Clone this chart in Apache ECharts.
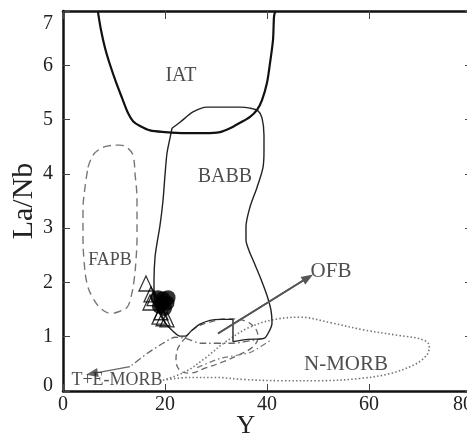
<!DOCTYPE html>
<html>
<head>
<meta charset="utf-8">
<script src="https://cdn.jsdelivr.net/npm/echarts@6/dist/echarts.min.js"></script>
<style>
  html, body { margin: 0; padding: 0; background: #fff; }
  #chart { width: 467px; height: 436px; }
</style>
</head>
<body>
<div id="chart"></div>
<script>
// Axis ticks
const xTicks = [0, 20, 40, 60, 80];
const yTicks = [0, 1, 2, 3, 4, 5, 6, 7];

// Field boundaries, [Y, La/Nb]
const iatBoundary = [
  [6.86, 6.98], [7.45, 6.65], [8.24, 6.32], [9.22, 6.01], [10.39, 5.69], [11.57, 5.40],
  [12.75, 5.12], [13.73, 4.97], [15.10, 4.88], [17.06, 4.80], [20.0, 4.77], [23.92, 4.75],
  [27.84, 4.75], [30.78, 4.77], [32.75, 4.84], [34.71, 4.94], [36.67, 5.05], [38.04, 5.18],
  [39.02, 5.36], [40.0, 5.68], [40.59, 6.04], [41.18, 6.47], [41.37, 6.89], [41.57, 6.98]
];

const babbBoundary = [
  [21.37, 4.84], [22.94, 4.95], [25.49, 5.14], [28.24, 5.23], [30.78, 5.23], [34.71, 5.23],
  [36.67, 5.21], [38.24, 5.16], [39.02, 5.03], [39.41, 4.71], [39.41, 4.44], [39.22, 4.12],
  [38.04, 3.75], [36.67, 3.39], [35.88, 3.02], [35.88, 2.78], [36.47, 2.59], [37.45, 2.37],
  [38.82, 2.06], [40.0, 1.76], [40.78, 1.49], [40.98, 1.25], [40.20, 1.06], [39.41, 0.97],
  [36.27, 0.95], [33.33, 0.91], [33.33, 1.11], [33.33, 1.32], [30.78, 1.32], [28.82, 1.30],
  [26.86, 1.23], [25.29, 1.12], [23.92, 1.01], [22.94, 1.01], [21.57, 1.10], [20.0, 1.26],
  [18.63, 1.49], [17.84, 1.76], [17.84, 2.04], [18.04, 2.46], [18.43, 2.72], [19.02, 3.05],
  [19.61, 3.51], [20.0, 3.98], [20.39, 4.38], [20.98, 4.66], [21.37, 4.84]
];

const fapbBoundary = [
  [4.90, 4.12], [5.69, 4.31], [6.67, 4.42], [8.63, 4.51], [11.18, 4.53], [12.75, 4.47],
  [13.73, 4.34], [14.12, 4.01], [14.51, 3.51], [14.51, 2.83], [14.31, 2.41], [13.92, 2.03],
  [13.33, 1.73], [12.55, 1.54], [11.18, 1.47], [9.41, 1.43], [7.65, 1.50], [5.88, 1.71],
  [4.71, 1.98], [4.12, 2.41], [3.92, 2.87], [3.92, 3.33], [4.31, 3.75], [4.90, 4.12]
];

const nMorbBoundary = [
  [19.6, 0.20], [23.9, 0.35], [27.8, 0.60], [31.8, 0.90], [36.7, 1.18], [41.6, 1.32],
  [46.5, 1.36], [52.4, 1.26], [59.2, 1.12], [66.1, 1.02], [70.4, 0.95], [71.8, 0.84],
  [71.4, 0.67], [69.0, 0.49], [64.1, 0.32], [58.2, 0.23], [50.4, 0.19], [42.6, 0.19],
  [35.7, 0.21], [29.8, 0.25], [24.9, 0.25], [19.6, 0.20]
];

const eMorbBoundary = [
  [23.92, 0.97], [25.88, 1.16], [28.82, 1.27], [32.35, 1.33], [35.69, 1.29], [37.65, 1.16],
  [38.24, 0.99], [37.06, 0.80], [34.31, 0.66], [31.18, 0.53], [27.84, 0.42], [24.90, 0.33],
  [22.94, 0.38], [22.16, 0.57], [22.55, 0.79], [23.92, 0.97]
];

// Trend arrows
const temorbTrend = [
  [39.4, 0.97], [33.3, 0.88], [27.0, 0.88], [23.92, 0.97], [21.96, 0.99], [19.61, 0.88],
  [16.47, 0.69], [13.14, 0.45]
];
const temorbTip = [5.69, 0.32];
const innerTrend = [[26.3, 0.43], [30.8, 0.60], [36.7, 0.71], [40.6, 0.93]];
const ofbArrow = [[30.39, 1.06], [48.04, 2.09]];

// Samples
const triangleSamples = [
  [16.27, 1.98], [17.25, 1.78], [17.06, 1.63], [17.84, 1.71],
  [18.82, 1.37], [19.61, 1.34], [20.39, 1.32], [19.22, 1.45]
];
const circleSamples = [
  [18.6, 1.72], [19.6, 1.70], [20.4, 1.62], [18.9, 1.56], [19.9, 1.52], [19.4, 1.62], [20.6, 1.72]
];

// Field names and where they sit
const fieldNames = ['IAT', 'BABB', 'FAPB', 'OFB', 'N-MORB', 'T+E-MORB'];
const fieldAnchors = [[23.14, 5.80], [31.76, 3.95], [9.22, 2.41], [52.55, 2.20], [55.49, 0.49], [10.59, 0.19]];
const fieldFontSizes = [20, 20, 18, 21, 21, 18];

const SERIF = '"Liberation Serif", "DejaVu Serif", serif';

const chart = echarts.init(document.getElementById('chart'), null, { renderer: 'canvas' });

function boundary(data, style, smooth) {
  return {
    type: 'line', data: data, symbol: 'none', smooth: smooth, silent: true,
    lineStyle: style, z: 2, animation: false
  };
}

function arrowLine(from, to, color, width) {
  return {
    silent: true, animation: false,
    symbol: ['none', 'triangle'], symbolSize: [9, 12],
    label: { show: false },
    lineStyle: { color: color, width: width, type: 'solid' },
    data: [[{ coord: from }, { coord: to }]]
  };
}

const frameLine = { show: true, onZero: false, lineStyle: { color: '#111', width: 2.5 } };

const option = {
  backgroundColor: '#fff',
  animation: false,
  grid: { left: 63, top: 11, right: -4, bottom: 45, show: false, outerBoundsMode: 'none', containLabel: false },
  xAxis: [
    {
      type: 'value', min: xTicks[0], max: xTicks[xTicks.length - 1], interval: 20, position: 'bottom',
      axisLine: frameLine,
      axisTick: { show: true, inside: true, length: 7, lineStyle: { color: '#444', width: 1 } },
      splitLine: { show: false },
      axisLabel: {
        margin: 4, color: '#222', fontFamily: SERIF, fontSize: 20,
        formatter: v => v === xTicks[xTicks.length - 1] ? '{last|' + v + '}' : String(v),
        rich: { last: { fontFamily: SERIF, fontSize: 20, color: '#222', padding: [0, 16, 0, 0] } }
      },
      name: 'Y', nameLocation: 'middle', nameGap: 22, nameMoveOverlap: false,
      nameTextStyle: { fontFamily: SERIF, fontSize: 26, color: '#222', padding: [0, 42, 0, 0] }
    },
    {
      type: 'value', min: xTicks[0], max: xTicks[xTicks.length - 1], interval: 20, position: 'top',
      axisLine: frameLine,
      axisTick: { show: true, inside: true, length: 8, lineStyle: { color: '#444', width: 1 } },
      splitLine: { show: false }, axisLabel: { show: false }
    }
  ],
  yAxis: [
    {
      type: 'value', min: yTicks[0], max: yTicks[yTicks.length - 1], interval: 1, position: 'left',
      axisLine: frameLine,
      axisTick: { show: true, inside: true, length: 7, lineStyle: { color: '#444', width: 1 } },
      splitLine: { show: false },
      axisLabel: {
        margin: 10, color: '#222', fontFamily: SERIF, fontSize: 20,
        formatter: v => {
          if (v === yTicks[yTicks.length - 1]) return '{top|' + v + '}';
          if (v === yTicks[0]) return '{bottom|' + v + '}';
          return String(v);
        },
        rich: {
          top: { fontFamily: SERIF, fontSize: 20, color: '#222', padding: [25, 0, 0, 0] },
          bottom: { fontFamily: SERIF, fontSize: 20, color: '#222', padding: [0, 0, 10, 0] }
        }
      },
      name: 'La/Nb', nameLocation: 'middle', nameGap: 24, nameRotate: 90, nameMoveOverlap: false,
      nameTextStyle: { fontFamily: SERIF, fontSize: 30, color: '#222' }
    },
    {
      type: 'value', min: yTicks[0], max: yTicks[yTicks.length - 1], interval: 1, position: 'right',
      axisLine: frameLine,
      axisTick: { show: true, inside: true, length: 6, lineStyle: { color: '#444', width: 1 } },
      splitLine: { show: false }, axisLabel: { show: false }
    }
  ],
  series: [
    boundary(nMorbBoundary, { color: '#777', width: 1.6, type: [1.5, 2.2] }, 0.35),
    boundary(eMorbBoundary, { color: '#666', width: 1.3, type: [6, 4] }, 0.4),
    boundary(innerTrend, { color: '#777', width: 1.2, type: [6, 3, 1.5, 3] }, 0.2),
    Object.assign(boundary(temorbTrend, { color: '#666', width: 1.3, type: [7, 3, 1.5, 3] }, 0.2), {
      markLine: arrowLine(temorbTrend[temorbTrend.length - 1], temorbTip, '#666', 1.3)
    }),
    boundary(fapbBoundary, { color: '#777', width: 1.4, type: [8, 5] }, 0.4),
    boundary(babbBoundary, { color: '#222', width: 1.4 }, 0.3),
    boundary(iatBoundary, { color: '#111', width: 2.2 }, 0.3),
    Object.assign(boundary(ofbArrow, { color: '#555', width: 1.6 }, false), {
      markLine: arrowLine(ofbArrow[0], ofbArrow[1], '#555', 1.6)
    }),
    {
      type: 'scatter', data: circleSamples, symbol: 'circle', symbolSize: 15, silent: true, z: 4,
      itemStyle: { color: '#000' }
    },
    {
      type: 'scatter', data: triangleSamples, symbol: 'triangle', symbolSize: [14, 15], silent: true, z: 5,
      itemStyle: { color: 'rgba(255,255,255,0)', borderColor: '#000', borderWidth: 1.3 }
    },
    {
      type: 'scatter', silent: true, z: 6, symbolSize: 0,
      data: fieldNames.map((n, i) => ({
        name: n, value: fieldAnchors[i],
        label: { fontSize: fieldFontSizes[i] }
      })),
      label: {
        show: true, position: 'inside', formatter: '{b}', color: '#222', fontFamily: SERIF
      }
    }
  ]
};

chart.setOption(option);
</script>
</body>
</html>
